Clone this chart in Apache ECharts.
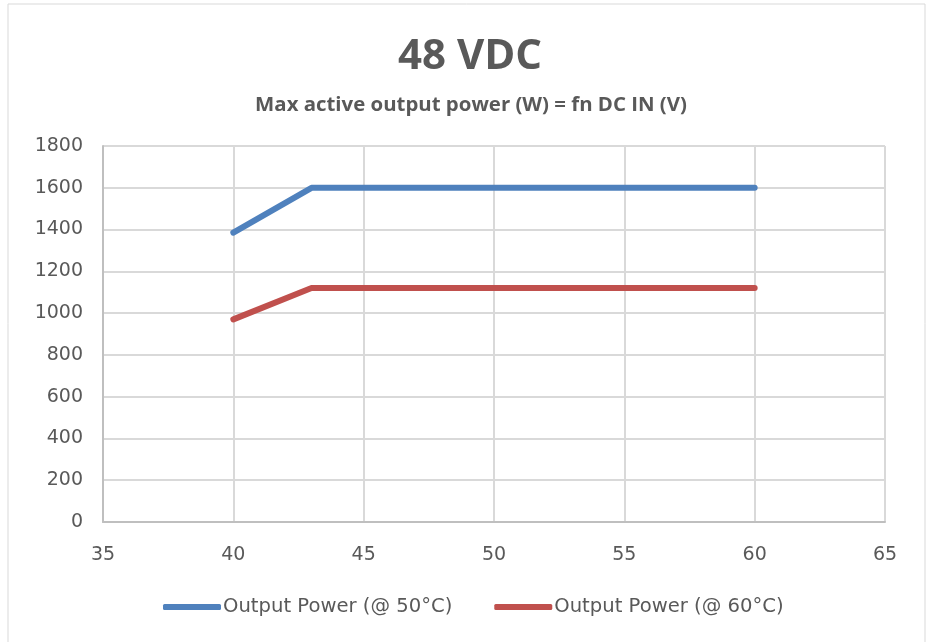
<!DOCTYPE html>
<html>
<head>
<meta charset="utf-8">
<script src="https://cdn.jsdelivr.net/npm/echarts@6/dist/echarts.min.js"></script>
<style>
  html, body { margin: 0; padding: 0; background: #fff; }
  #main { width: 927px; height: 642px; }
</style>
</head>
<body>
<div id="main"></div>
<script>
// data
var voltage = [40, 43, 60];
var power50 = [1385, 1600, 1600];
var power60 = [970, 1120, 1120];
var seriesNames = ["Output Power (@ 50°C)", "Output Power (@ 60°C)"];

var myChart = echarts.init(document.getElementById("main"));

function pairs(xs, ys) {
  return xs.map(function (x, i) { return [x, ys[i]]; });
}

var option = {
  backgroundColor: "#fff",
  animation: false,
  graphic: [
    {
      type: "rect",
      shape: { x: 8, y: 4, width: 917, height: 650 },
      style: { fill: "none", stroke: "#d9d9d9", lineWidth: 1 }
    }
  ],
  title: [
    {
      text: "48 VDC",
      left: 465,
      textAlign: "center",
      top: 31,
      textStyle: { fontFamily: "Open Sans", fontSize: 42, fontWeight: "bold", color: "#595959" }
    },
    {
      text: "Max active output power (W) = fn DC IN (V)",
      left: 466,
      textAlign: "center",
      top: 90,
      textStyle: { fontFamily: "Open Sans", fontSize: 20.4, fontWeight: "bold", color: "#595959" }
    }
  ],
  legend: {
    bottom: 20,
    left: 158,
    itemWidth: 58,
    itemHeight: 6,
    itemGap: 42,
    icon: "roundRect",
    textStyle: { fontFamily: "DejaVu Sans", fontSize: 19.6, color: "#595959", padding: [0, 0, 0, -3] },
    data: seriesNames
  },
  grid: { left: 103, right: 42, top: 146, bottom: 120 },
  xAxis: {
    type: "value",
    min: 35,
    max: 65,
    interval: 5,
    axisLine: { show: true, lineStyle: { color: "#bfbfbf", width: 2 } },
    axisTick: { show: false },
    axisLabel: { color: "#595959", fontFamily: "DejaVu Sans", fontSize: 19, margin: 24 },
    splitLine: { show: true, lineStyle: { color: "#d9d9d9", width: 2 } }
  },
  yAxis: {
    type: "value",
    min: 0,
    max: 1800,
    interval: 200,
    axisLine: { show: true, lineStyle: { color: "#bfbfbf", width: 2 } },
    axisTick: { show: false },
    axisLabel: {
      color: "#595959", fontFamily: "DejaVu Sans", fontSize: 19, margin: 20,
      formatter: function (v) { return String(v); }
    },
    splitLine: { show: true, lineStyle: { color: "#d9d9d9", width: 2 } }
  },
  series: [
    {
      name: seriesNames[0],
      type: "line",
      data: pairs(voltage, power50),
      symbol: "none",
      color: "#4f81bd",
      lineStyle: { width: 6, cap: "round", join: "round" }
    },
    {
      name: seriesNames[1],
      type: "line",
      data: pairs(voltage, power60),
      symbol: "none",
      color: "#c0504d",
      lineStyle: { width: 6, cap: "round", join: "round" }
    }
  ]
};

myChart.setOption(option);
</script>
</body>
</html>
